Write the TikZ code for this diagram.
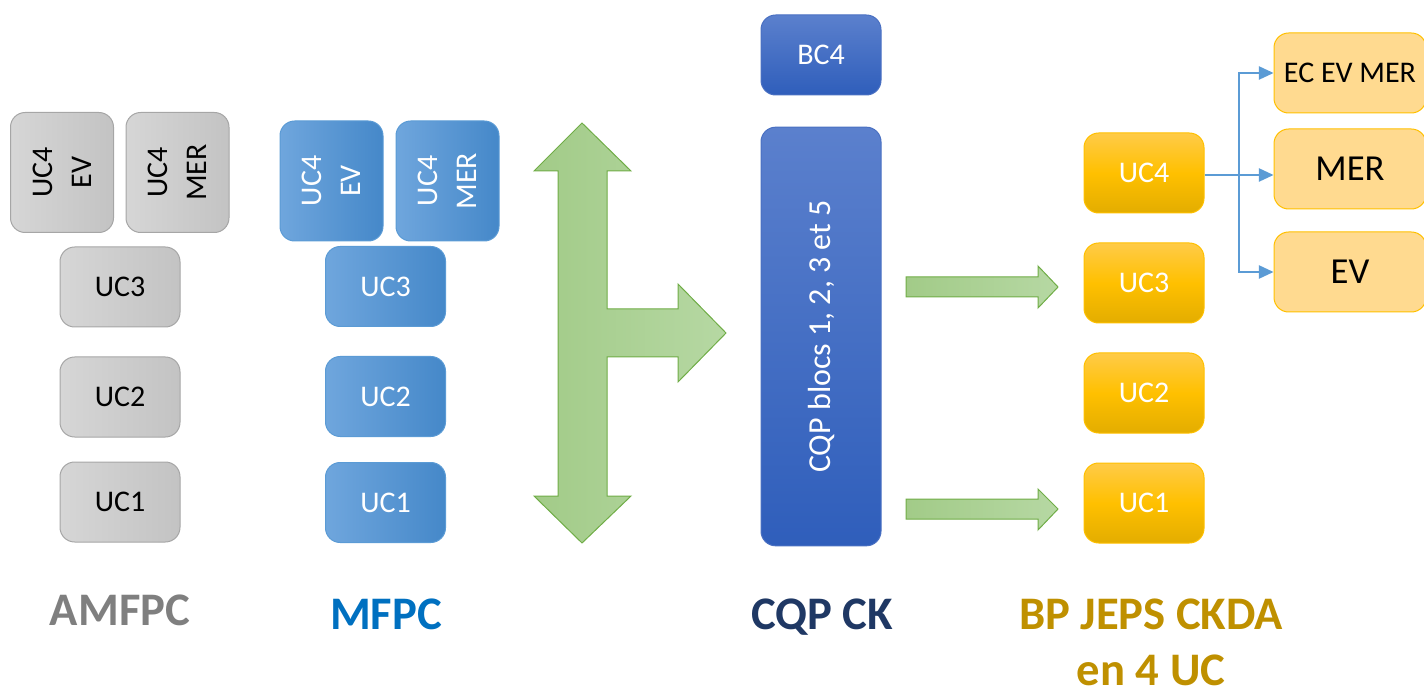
\documentclass[tikz,border=0pt]{standalone}
\usepackage{fontspec}
\setmainfont{Carlito}
\usetikzlibrary{arrows.meta}

\definecolor{greyA}{HTML}{D6D6D6}
\definecolor{greyB}{HTML}{C3C3C3}
\definecolor{greyline}{HTML}{A6A6A6}
\definecolor{blueA}{HTML}{6FA6DD}
\definecolor{blueB}{HTML}{4588C9}
\definecolor{blueline}{HTML}{5B9BD5}
\definecolor{navyA}{HTML}{5B80CD}
\definecolor{navyB}{HTML}{2F5EBB}
\definecolor{navyline}{HTML}{4A70C2}
\definecolor{goldA}{HTML}{FFCB48}
\definecolor{goldM}{HTML}{FFC000}
\definecolor{goldB}{HTML}{E3AD00}
\definecolor{goldline}{HTML}{FFC000}
\definecolor{goldL}{HTML}{FFDA90}
\definecolor{arrowA}{HTML}{A2CB88}
\definecolor{arrowB}{HTML}{B6D8A3}
\definecolor{arrowline}{HTML}{70AD47}
\definecolor{linkblue}{HTML}{5B9BD5}
\definecolor{capgrey}{HTML}{7F7F7F}
\definecolor{capblue}{HTML}{0070C0}
\definecolor{capnavy}{HTML}{1F3864}
\definecolor{capgold}{HTML}{BF9000}

\tikzset{every picture/.style={line width=0.75pt}}
\tikzset{
  box/.style={rounded corners=11pt, inner sep=0pt, font=\fontsize{22.5}{29}\selectfont,
    minimum width=90pt, minimum height=60pt},
  tall/.style={minimum width=77.25pt, minimum height=90pt},
  greybox/.style={box, draw=greyline, left color=greyA, right color=greyB, text=black},
  bluebox/.style={box, draw=blueline, left color=blueA, right color=blueB, text=white},
  navybox/.style={box, draw=navyline, top color=navyA, bottom color=navyB, text=white},
  goldbox/.style={box, draw=goldline, top color=goldA, bottom color=goldB, middle color=goldM, text=white},
  lightbox/.style={box, draw=goldline, fill=goldL, text=black, minimum width=114pt},
  vtext/.style={rotate=90, align=center, inner sep=0pt, font=\fontsize{22.5}{29}\selectfont},
  greenarrow/.style={draw=arrowline, left color=arrowA, right color=arrowB},
  wire/.style={draw=linkblue, line width=1.1pt},
  link/.style={wire, -{Triangle[length=11pt,width=10pt]}},
  caption/.style={anchor=base, inner sep=0pt, font=\fontsize{35}{44}\selectfont\bfseries}
}

\begin{document}
\begin{tikzpicture}[x=0.75pt,y=0.75pt,yscale=-1,xscale=1]
        \useasboundingbox (0,0) rectangle (1424,691);

        %AMFPC column
        \node[greybox, tall] (amEV) at (62,172.5) {};
        \node[vtext, text=black] (amEVt) at (amEV) {UC4\\EV};
        \node[greybox, tall] (amMER) at (177.5,172.5) {};
        \node[vtext, text=black] (amMERt) at (amMER) {UC4\\MER};
        \node[greybox] (amUC3) at (120,287) {UC3};
        \node[greybox] (amUC2) at (120,397) {UC2};
        \node[greybox] (amUC1) at (120,502) {UC1};

        %MFPC column
        \node[bluebox, tall] (mfEV) at (331.5,181) {};
        \node[vtext, text=white] (mfEVt) at (mfEV) {UC4\\EV};
        \node[bluebox, tall] (mfMER) at (447.5,181) {};
        \node[vtext, text=white] (mfMERt) at (mfMER) {UC4\\MER};
        \node[bluebox] (mfUC3) at (385.5,286.5) {UC3};
        \node[bluebox] (mfUC2) at (385.5,396.5) {UC2};
        \node[bluebox] (mfUC1) at (385.5,502.5) {UC1};

        %Shape: Up Down Right Arrow
        \draw[greenarrow] (582,123) -- (631,171) -- (607,171) -- (607,309) -- (678,309) -- (678,284) -- (726,333) -- (678,382) -- (678,357) -- (607,357) -- (607,496) -- (631,496) -- (582,543) -- (534,496) -- (558,496) -- (558,171) -- (534,171) -- cycle ;

        %CQP CK column
        \node[navybox] (bc4) at (821,55) {BC4};
        \node[navybox, minimum height=314pt] (cqp) at (821,336.5) {};
        \node[vtext, text=white, font=\fontsize{24}{29}\selectfont] (cqpt) at (cqp) {CQP blocs 1, 2, 3 et 5};

        %Shape: Right Arrow
        \draw[greenarrow] (906,277) -- (1038,277) -- (1038,266) -- (1058,287) -- (1038,308) -- (1038,297) -- (906,297) -- cycle ;
        %Shape: Right Arrow
        \draw[greenarrow] (906,499) -- (1038,499) -- (1038,489) -- (1058,509) -- (1038,530) -- (1038,519) -- (906,519) -- cycle ;

        %BP JEPS column
        \node[goldbox] (bpUC4) at (1144,173) {UC4};
        \node[goldbox] (bpUC3) at (1144,283) {UC3};
        \node[goldbox] (bpUC2) at (1144,393) {UC2};
        \node[goldbox] (bpUC1) at (1144,503) {UC1};

        \node[lightbox] (ecevmer) at (1350,73) {EC EV MER};
        \node[lightbox, font=\fontsize{27.5}{32}\selectfont] (mer) at (1350,169) {MER};
        \node[lightbox, font=\fontsize{27.5}{32}\selectfont] (ev) at (1350,272) {EV};

        \coordinate (split) at (1239,175);
        \draw[wire] (bpUC4.east |- split) -- (split);
        \draw[link] (split) |- (ecevmer.west);
        \draw[link] (split) -- (split -| mer.west);
        \draw[link] (split) |- (ev.west);

        % Text Node
        \node[caption, text=capgrey] (capAM) at (120,625) {AMFPC};
        % Text Node
        \node[caption, text=capblue] (capMF) at (386,629) {MFPC};
        % Text Node
        \node[caption, text=capnavy] (capCQ) at (822,629) {CQP CK};
        % Text Node
        \node[caption, text=capgold] (capBP) at (1151,629) {BP JEPS CKDA};
        % Text Node
        \node[caption, text=capgold] (capUC) at (1151,685) {en 4 UC};

\end{tikzpicture}
\end{document}
